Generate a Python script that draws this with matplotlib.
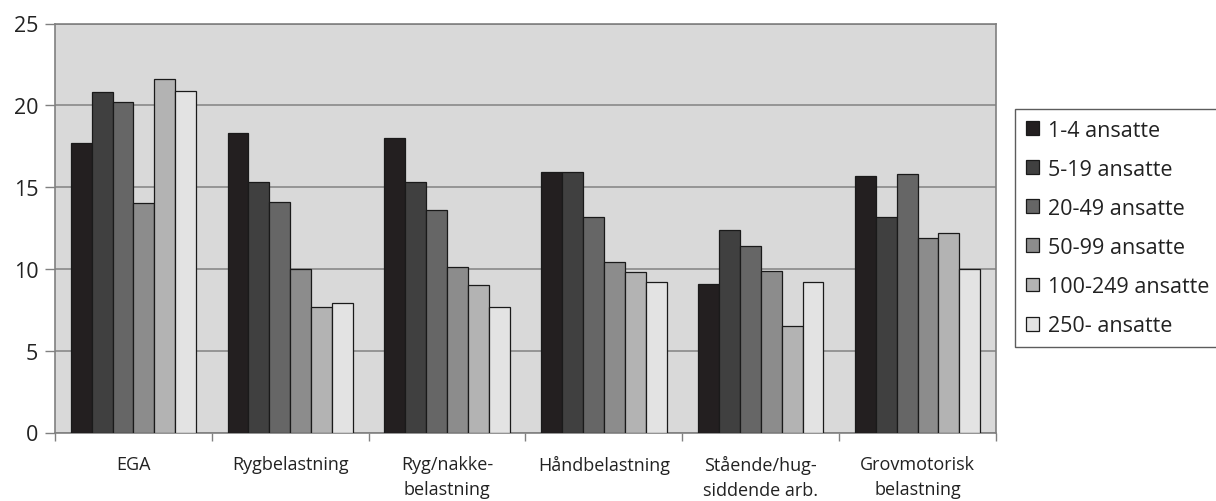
import numpy as np
import matplotlib
matplotlib.use("Agg")
import matplotlib.pyplot as plt

categories = ["EGA", "Rygbelastning", "Ryg/nakke-\nbelastning", "Håndbelastning",
              "Stående/hug-\nsiddende arb.", "Grovmotorisk\nbelastning"]
series_names = ["1-4 ansatte", "5-19 ansatte", "20-49 ansatte", "50-99 ansatte",
                "100-249 ansatte", "250- ansatte"]
s_1_4 = [17.7, 18.3, 18.0, 15.9, 9.1, 15.7]
s_5_19 = [20.8, 15.3, 15.3, 15.9, 12.4, 13.2]
s_20_49 = [20.2, 14.1, 13.6, 13.2, 11.4, 15.8]
s_50_99 = [14.0, 10.0, 10.1, 10.4, 9.9, 11.9]
s_100_249 = [21.6, 7.7, 9.0, 9.8, 6.5, 12.2]
s_250 = [20.9, 7.9, 7.7, 9.2, 9.2, 10.0]
yticks = [0, 5, 10, 15, 20, 25]

colors = ["#231f20", "#404040", "#666666", "#8c8c8c", "#b3b3b3", "#e3e3e3"]
data = [s_1_4, s_5_19, s_20_49, s_50_99, s_100_249, s_250]

plt.rcParams['font.family'] = ['Open Sans', 'DejaVu Sans']

fig = plt.figure(figsize=(12.16, 5.02), dpi=100)
ax = fig.add_axes([55/1216, 1 - 433.5/502, (996-55)/1216, (433.5-24.5)/502])
ax.set_facecolor("#d9d9d9")

n = len(data)
width = 0.8 / n
x = np.arange(len(categories))
for i, (vals, c, name) in enumerate(zip(data, colors, series_names)):
    ax.bar(x - 0.4 + width * (i + 0.5), vals, width, color=c, edgecolor="#1a1a1a",
           linewidth=0.9, label=name, zorder=3)

ax.set_xlim(-0.5, len(categories) - 0.5)
ax.set_ylim(0, 25)
ax.set_yticks(yticks)
ax.set_yticklabels([str(t) for t in yticks], fontsize=15.5, color="#222222")
ax.yaxis.grid(True, color="#8f8f8f", linewidth=1.3, zorder=1)
ax.set_axisbelow(True)

ax.set_xticks(x)
ax.set_xticklabels(categories, fontsize=13, linespacing=1.55, color="#222222")
ax.set_xticks(np.arange(len(categories) + 1) - 0.5, minor=True)
ax.tick_params(axis='x', which='major', length=0, pad=16)
ax.tick_params(axis='x', which='minor', length=6, width=1, color="#808080", direction='out')
ax.tick_params(axis='y', length=7, width=1, color="#808080", direction='out', pad=5)

for sp in ax.spines.values():
    sp.set_color("#808080")
    sp.set_linewidth(1.2)

leg = ax.legend(loc='upper left', bbox_to_anchor=(1015/1216, 1 - 110/502),
                bbox_transform=fig.transFigure, frameon=True, fancybox=False,
                fontsize=15.5, handlelength=0.62, handleheight=0.62, handletextpad=0.4,
                labelspacing=0.84, borderpad=0.5, borderaxespad=0)
leg.get_frame().set_edgecolor("#333333")
leg.get_frame().set_linewidth(1.0)
for t in leg.get_texts():
    t.set_color("#222222")

fig.savefig("out.png", dpi=100)
